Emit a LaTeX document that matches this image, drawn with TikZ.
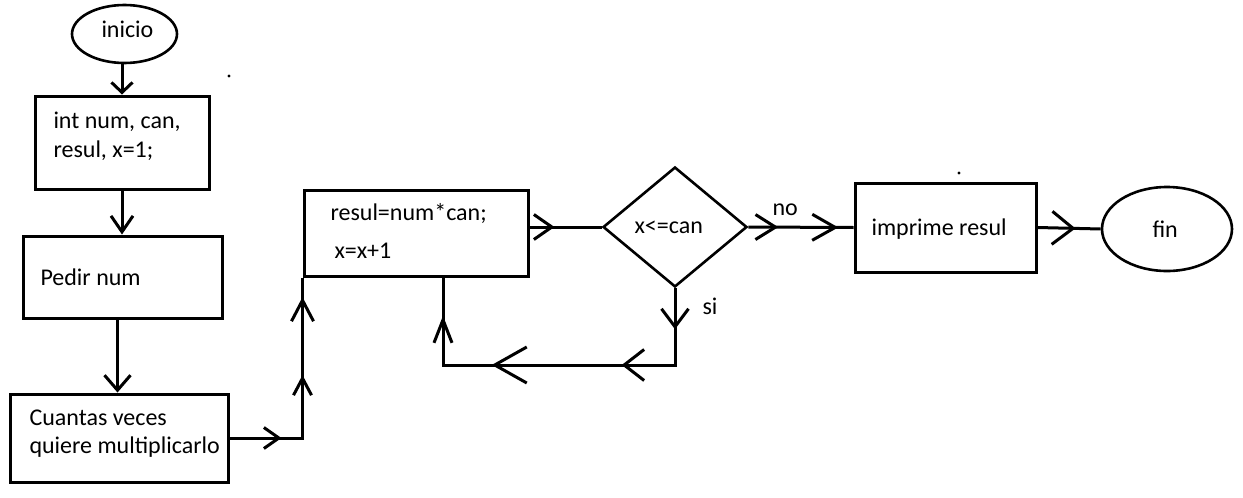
\documentclass[tikz,border=0pt]{standalone}
\usepackage{fontspec}
\setmainfont{Carlito}
\usetikzlibrary{shapes.geometric,arrows.meta,decorations.markings}
\newcommand{\barb}[2]{\arrow{Straight Barb[length=#1pt,width=#2pt]}}
\begin{document}
\begin{tikzpicture}[x=1pt,y=-1pt,line width=3pt,
  box/.style={draw,rectangle,inner sep=0pt},
  oval/.style={draw,ellipse,inner sep=0pt,line width=2.6pt},
  dec/.style={draw,diamond,inner sep=0pt,line width=2.6pt},
  txt/.style={anchor=base west,inner sep=0pt,font=\fontsize{24}{29}\selectfont},
  conn/.style={draw,line cap=butt},
  tipend/.style args={#1/#2}{-{Straight Barb[length=#1pt,width=#2pt]}},
  marks/.style={postaction={decorate,decoration={markings,#1}}}
]
\useasboundingbox (0,0) rectangle (1243,498);
% nodes
\node[oval,minimum width=105pt,minimum height=58pt] (ini) at (124.5,34) {};
\node[txt] (tini) at (100,37) {inicio};
\node[box,minimum width=174pt,minimum height=93pt] (b1) at (122,142.5) {};
\node[txt] (t1a) at (52,128) {int num, can,};
\node[txt] (t1b) at (52,157) {resul, x=1;};
\node[box,minimum width=199pt,minimum height=82pt] (b2) at (122.5,277) {};
\node[txt] (t2) at (39,285) {Pedir num};
\node[box,minimum width=218pt,minimum height=88pt] (b3) at (119,438) {};
\node[txt] (t3a) at (28,425) {Cuantas veces};
\node[txt] (t3b) at (28,453) {quiere multiplicarlo};
\node[box,minimum width=224pt,minimum height=86pt] (b4) at (416,233) {};
\node[txt] (t4a) at (329,220) {resul=num*can;};
\node[txt] (t4b) at (333,258) {x=x+1};
\node[dec,minimum width=144pt,minimum height=120pt] (dia) at (675,227) {};
\node[txt] (td) at (633,233) {x<=can};
\node[box,minimum width=181pt,minimum height=89pt] (b5) at (945.5,227.5) {};
\node[txt] (t5) at (870,235) {imprime resul};
\node[oval,minimum width=130pt,minimum height=84pt] (fin) at (1167,229) {};
\node[txt] (tfin) at (1151,237) {fin};
\node[txt] (tno) at (771,215) {no};
\node[txt] (tsi) at (701,314) {si};
\coordinate (loopc) at (443,365);
\coordinate (loopend) at (443,278);
% stray dots
\fill (229,76) circle (1.6pt);
\fill (959,173) circle (1.6pt);
% connectors
\draw[conn,tipend=10/21] ([xshift=-2.5pt]ini.south) -- ([xshift=-2.5pt]ini.south |- b1.north);
\draw[conn,tipend=16/22] (b1.south) -- (b1.south |- b2.north);
\draw[conn,tipend=15/26] ([xshift=-5pt]b2.south) -- ([xshift=-5pt]b2.south |- b3.north);
\draw[conn,marks={mark=at position 52pt with {\barb{15}{21}},
                  mark=at position 136pt with {\barb{17}{18}},
                  mark=at position 214pt with {\barb{21}{22}}}]
  (b3.east) -- (b4.south west |- b3.east) -- (b4.south west);
\draw[conn,marks={mark=at position 25pt with {\barb{18}{25}}}]
  ([yshift=6pt]b4.east) -- (dia.west);
\draw[conn,marks={mark=at position 30pt with {\barb{20}{25}},
                  mark=at position 90pt with {\barb{23}{26}}}]
  (dia.east) -- (b5.west);
\draw[conn,marks={mark=at position 38pt with {\barb{21}{33}}}]
  (b5.east) -- (fin.west);
\draw[conn,marks={mark=at position 41pt with {\barb{18}{27}},
                  mark=at position 130pt with {\barb{20}{31}},
                  mark=at position 260pt with {\barb{32}{36}},
                  mark=at position 358pt with {\barb{23}{18}}}]
  (dia.south) -- (dia.south |- loopc) -- (loopc) -- (loopend);
\end{tikzpicture}
\end{document}
